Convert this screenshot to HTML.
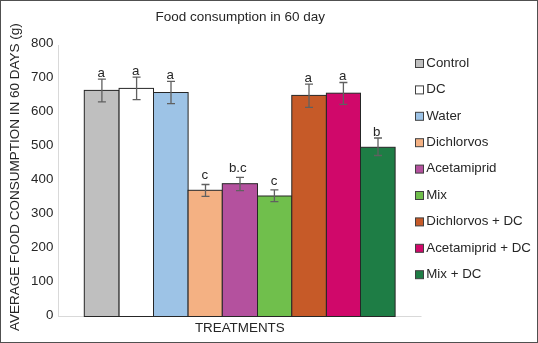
<!DOCTYPE html>
<html><head><meta charset="utf-8"><style>
html,body{margin:0;padding:0;background:#fff;}
body{width:538px;height:343px;overflow:hidden;position:relative;}
svg{position:absolute;left:0;top:0;display:block;}
text{font-family:"Liberation Sans", sans-serif;fill:#262626;}
svg{will-change:transform;transform:translateZ(0);}
</style></head><body>
<svg width="538" height="343" viewBox="0 0 538 343">
<rect x="0" y="0" width="538" height="343" fill="#ffffff"/>

<text x="240.2" y="20.7" font-size="13.5" text-anchor="middle">Food consumption in 60 day</text>
<text x="239.8" y="332.4" font-size="13.4" text-anchor="middle">TREATMENTS</text>
<text transform="translate(19.4,177.1) rotate(-90)" font-size="13.5" text-anchor="middle">AVERAGE FOOD CONSUMPTION IN 60 DAYS (g)</text>
<line x1="58.5" y1="45" x2="58.5" y2="317" stroke="#d9d9d9" stroke-width="1"/>
<line x1="58" y1="316.5" x2="421.5" y2="316.5" stroke="#d9d9d9" stroke-width="1"/>
<text x="53.3" y="318.95" font-size="13.3" text-anchor="end">0</text>
<text x="53.3" y="284.95" font-size="13.3" text-anchor="end">100</text>
<text x="53.3" y="250.95" font-size="13.3" text-anchor="end">200</text>
<text x="53.3" y="216.95" font-size="13.3" text-anchor="end">300</text>
<text x="53.3" y="182.95" font-size="13.3" text-anchor="end">400</text>
<text x="53.3" y="148.95" font-size="13.3" text-anchor="end">500</text>
<text x="53.3" y="114.95" font-size="13.3" text-anchor="end">600</text>
<text x="53.3" y="80.95" font-size="13.3" text-anchor="end">700</text>
<text x="53.3" y="46.95" font-size="13.3" text-anchor="end">800</text>
<rect x="84.3" y="90.4" width="34.8" height="226.1" fill="#bfbfbf" stroke="#262626" stroke-width="1"/>
<rect x="119.1" y="88.4" width="34.400000000000006" height="228.1" fill="#ffffff" stroke="#262626" stroke-width="1"/>
<rect x="153.5" y="92.5" width="34.599999999999994" height="224.0" fill="#9dc3e6" stroke="#262626" stroke-width="1"/>
<rect x="188.1" y="190.3" width="34.20000000000002" height="126.19999999999999" fill="#f4b183" stroke="#262626" stroke-width="1"/>
<rect x="222.3" y="183.7" width="35.19999999999999" height="132.8" fill="#b4519e" stroke="#262626" stroke-width="1"/>
<rect x="257.5" y="196.0" width="34.30000000000001" height="120.5" fill="#70bf4c" stroke="#262626" stroke-width="1"/>
<rect x="291.8" y="95.4" width="34.599999999999966" height="221.1" fill="#c65a28" stroke="#262626" stroke-width="1"/>
<rect x="326.4" y="93.2" width="34.10000000000002" height="223.3" fill="#d0086a" stroke="#262626" stroke-width="1"/>
<rect x="360.5" y="147.3" width="34.60000000000002" height="169.2" fill="#1e7d45" stroke="#262626" stroke-width="1"/>
<path d="M101.9 79.2V101.8M97.9 79.2H105.9M97.9 101.8H105.9" stroke="#606060" stroke-width="1.3" fill="none"/>
<path d="M136.6 77.2V99.7M132.6 77.2H140.6M132.6 99.7H140.6" stroke="#606060" stroke-width="1.3" fill="none"/>
<path d="M171 81.3V103.7M167 81.3H175M167 103.7H175" stroke="#606060" stroke-width="1.3" fill="none"/>
<path d="M205.5 184.5V196.4M201.5 184.5H209.5M201.5 196.4H209.5" stroke="#606060" stroke-width="1.3" fill="none"/>
<path d="M240 177.3V190.6M236 177.3H244M236 190.6H244" stroke="#606060" stroke-width="1.3" fill="none"/>
<path d="M274.4 189.9V201.7M270.4 189.9H278.4M270.4 201.7H278.4" stroke="#606060" stroke-width="1.3" fill="none"/>
<path d="M309 84.2V107.3M305 84.2H313M305 107.3H313" stroke="#606060" stroke-width="1.3" fill="none"/>
<path d="M343.4 82.5V104.4M339.4 82.5H347.4M339.4 104.4H347.4" stroke="#606060" stroke-width="1.3" fill="none"/>
<path d="M378 138V155.5M374 138H382M374 155.5H382" stroke="#606060" stroke-width="1.3" fill="none"/>
<text x="101.1" y="76.5" font-size="13.3" text-anchor="middle">a</text>
<text x="135.7" y="74.9" font-size="13.3" text-anchor="middle">a</text>
<text x="170.2" y="78.7" font-size="13.3" text-anchor="middle">a</text>
<text x="204.75" y="178.8" font-size="13.3" text-anchor="middle">c</text>
<text x="237.75" y="172.1" font-size="13.3" text-anchor="middle">b.c</text>
<text x="274" y="184.9" font-size="13.3" text-anchor="middle">c</text>
<text x="308.1" y="81.8" font-size="13.3" text-anchor="middle">a</text>
<text x="342.7" y="79.7" font-size="13.3" text-anchor="middle">a</text>
<text x="376.7" y="135.5" font-size="13.3" text-anchor="middle">b</text>
<rect x="415.5" y="59.5" width="8" height="8" fill="#bfbfbf" stroke="#404040" stroke-width="1"/>
<text x="426.3" y="66.8" font-size="13.3">Control</text>
<rect x="415.5" y="85.9" width="8" height="8" fill="#ffffff" stroke="#404040" stroke-width="1"/>
<text x="426.3" y="93.2" font-size="13.3">DC</text>
<rect x="415.5" y="112.3" width="8" height="8" fill="#9dc3e6" stroke="#404040" stroke-width="1"/>
<text x="426.3" y="119.6" font-size="13.3">Water</text>
<rect x="415.5" y="138.7" width="8" height="8" fill="#f4b183" stroke="#404040" stroke-width="1"/>
<text x="426.3" y="146.0" font-size="13.3">Dichlorvos</text>
<rect x="415.5" y="165.1" width="8" height="8" fill="#b4519e" stroke="#404040" stroke-width="1"/>
<text x="426.3" y="172.4" font-size="13.3">Acetamiprid</text>
<rect x="415.5" y="191.5" width="8" height="8" fill="#70bf4c" stroke="#404040" stroke-width="1"/>
<text x="426.3" y="198.8" font-size="13.3">Mix</text>
<rect x="415.5" y="217.9" width="8" height="8" fill="#c65a28" stroke="#404040" stroke-width="1"/>
<text x="426.3" y="225.2" font-size="13.3">Dichlorvos + DC</text>
<rect x="415.5" y="244.3" width="8" height="8" fill="#d0086a" stroke="#404040" stroke-width="1"/>
<text x="426.3" y="251.6" font-size="13.3">Acetamiprid + DC</text>
<rect x="415.5" y="270.7" width="8" height="8" fill="#1e7d45" stroke="#404040" stroke-width="1"/>
<text x="426.3" y="278.0" font-size="13.3">Mix + DC</text>
<rect x="0.5" y="0.5" width="537" height="342" fill="none" stroke="#505050" stroke-width="1"/>
</svg></body></html>
